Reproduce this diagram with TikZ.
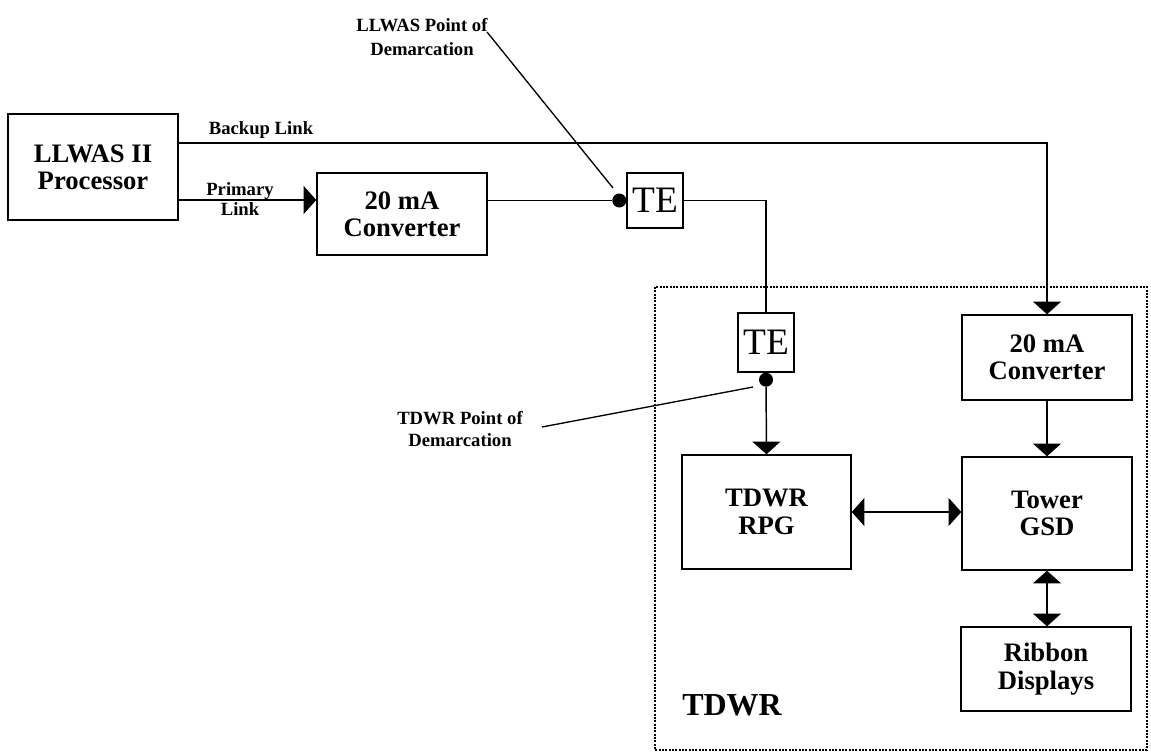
\documentclass[tikz,border=0pt]{standalone}
\usepackage{fontspec}
\setmainfont{Liberation Serif}
\usetikzlibrary{arrows.meta}
\usetikzlibrary{calc}

\begin{document}
\begin{tikzpicture}[x=0.75pt,y=0.75pt,yscale=-1,xscale=1,
  box/.style={draw,line width=1.1pt,inner sep=0pt,align=center,font=\fontsize{20}{20.5}\selectfont\bfseries},
  tebox/.style={draw,line width=1.1pt,inner sep=0pt,minimum width=42pt,font=\fontsize{28}{28}\selectfont},
  lbl/.style={inner sep=0.75pt,align=center,font=\fontsize{14}{18}\selectfont\bfseries},
  ln/.style={line width=1.1pt},
  arr/.style={line width=1.1pt,-{Triangle[length=9.5pt,width=21pt]}},
  darr/.style={line width=1.1pt,{Triangle[length=9.5pt,width=21pt]}-{Triangle[length=9.5pt,width=21pt]}},
  dotpt/.style={circle,fill,inner sep=0pt,minimum size=10.5pt}]
\useasboundingbox (0,0) rectangle (1151,753);

%TDWR area
\draw [line width=1pt,dash pattern=on 1.5pt off 1pt] (655,287) rectangle (1147,750);

%Blocks
\node [box,minimum width=127.5pt,minimum height=79.5pt] (proc) at (93,167) {LLWAS II\\Processor};
\node [box,minimum width=127.5pt,minimum height=61.5pt] (convA) at (402,214) {20 mA\\Converter};
\node [tebox,minimum height=41.25pt] (teA) at (655,200.5) {TE};
\node [tebox,minimum height=44.25pt] (teB) at (766,342.5) {TE};
\node [box,minimum width=127.5pt,minimum height=63.75pt] (convB) at (1047,357.5) {20 mA\\Converter};
\node [box,minimum width=126.75pt,minimum height=85.5pt] (rpg) at (766.5,512) {TDWR\\RPG};
\node [box,minimum width=127.5pt,minimum height=84.75pt] (gsd) at (1047,513.5) {Tower\\GSD};
\node [box,minimum width=127.5pt,minimum height=63pt] (ribbon) at (1046,669) {Ribbon\\Displays};

%Demarcation points
\node [dotpt] (dmA) at ($(teA.west)+(-7,0)$) {};
\node [dotpt] (dmB) at ($(teB.south)+(0,7)$) {};

%Links
\coordinate (bkup) at (1047,143);
\coordinate (prim) at (0,200);
\draw [arr] (proc.east |- bkup) -- (bkup) -- (convB.north);
\draw [arr] (proc.east |- prim) -- (convA.west |- prim);
\draw [ln] (convA.east |- dmA) -- (dmA);
\draw [ln] (teA.east) -| (teB.north);
\draw [arr] (dmB) -- (rpg.north);
\draw [arr] (convB.south) -- (gsd.north);
\draw [darr] (rpg.east) -- (rpg.east -| gsd.west);
\draw [darr] (gsd.south) -- (gsd.south |- ribbon.north);

% Text Node
\node [lbl] (bkupl) at (261,130) {Backup Link};
% Text Node
\node [lbl,font=\fontsize{14}{15}\selectfont\bfseries] (priml) at (240,199) {Primary\\Link};
% Text Node
\node [lbl] (llwasdm) at (422,37) {LLWAS Point of\\Demarcation};
% Text Node
\node [lbl,font=\fontsize{14}{17}\selectfont\bfseries] (tdwrdm) at (460,429) {TDWR Point of\\Demarcation};
% Text Node
\node [anchor=west,inner sep=0pt,font=\fontsize{24}{24}\selectfont\bfseries] (tdwr) at (682,705) {TDWR};

%Leaders
\coordinate (llA) at (487,32);
\coordinate (llB) at (613,188);
\draw [line width=1pt] (llA) -- (llB);
\coordinate (tdA) at (542,427);
\coordinate (tdB) at (753,387);
\draw [line width=1pt] (tdA) -- (tdB);

\end{tikzpicture}
\end{document}
